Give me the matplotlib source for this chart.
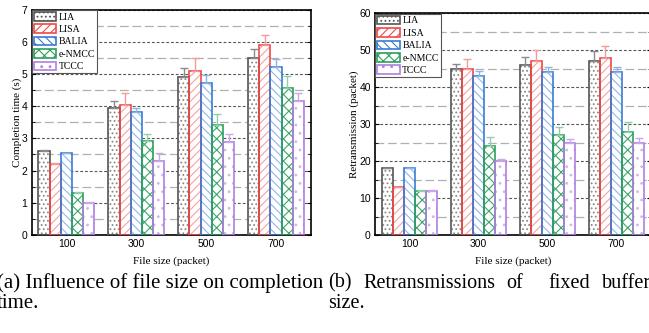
import matplotlib
matplotlib.use("Agg")
import matplotlib.pyplot as plt
import numpy as np
from matplotlib.ticker import MultipleLocator
from matplotlib.patches import Patch

file_sizes = [100, 300, 500, 700]
algorithms = ["LIA", "LISA", "BALIA", "e-NMCC", "TCCC"]

completion_LIA = [2.62, 3.93, 4.90, 5.50]
completion_LISA = [2.20, 4.02, 5.10, 5.90]
completion_BALIA = [2.53, 3.82, 4.72, 5.20]
completion_ENMCC = [1.30, 2.92, 3.40, 4.57]
completion_TCCC = [1.00, 2.31, 2.90, 4.17]

completion_err_LIA = [0.02, 0.22, 0.27, 0.28]
completion_err_LISA = [0.02, 0.40, 0.38, 0.32]
completion_err_BALIA = [0.02, 0.13, 0.25, 0.25]
completion_err_ENMCC = [0.02, 0.23, 0.35, 0.36]
completion_err_TCCC = [0.02, 0.22, 0.22, 0.23]

retrans_LIA = [18, 45, 46, 47]
retrans_LISA = [13, 45, 47, 48]
retrans_BALIA = [18, 43, 44, 44]
retrans_ENMCC = [12, 24, 27, 28]
retrans_TCCC = [12, 20, 25, 25]

retrans_err_LIA = [0.1, 1.2, 2.1, 2.8]
retrans_err_LISA = [0.1, 2.5, 3.1, 3.1]
retrans_err_BALIA = [0.1, 1.3, 1.4, 1.4]
retrans_err_ENMCC = [0.1, 2.5, 2.2, 2.6]
retrans_err_TCCC = [0.1, 0.6, 1.0, 1.2]

edge_colors = ["#555555", "#f04848", "#3a7bd5", "#2e9e5b", "#b07fe0"]
hatch_colors = ["#8a8a8a", "#f7a0a0", "#8fb6ec", "#3aa866", "#d2b5f0"]
err_colors = ["#8a8a8a", "#f59a9a", "#8ab4ea", "#8fd0a8", "#caa8ee"]
hatches = ["....", "////", "\\\\\\\\", "xxx", ".."]

plt.rcParams["hatch.linewidth"] = 0.8
serif = ["Liberation Serif", "DejaVu Serif"]
sans = ["Liberation Sans", "DejaVu Sans"]

fig = plt.figure(figsize=(6.49, 3.33), dpi=100)
W, H = 649, 333

def axes_px(x0, y0, x1, y1):
    return fig.add_axes([x0 / W, 1 - y1 / H, (x1 - x0) / W, (y1 - y0) / H])

axL = axes_px(31.5, 9.5, 311, 235)
axR = axes_px(375, 13.3, 651, 235)

def draw(ax, series, errs, ymax, major, minor, ylabel, ypad):
    x = np.array(file_sizes, dtype=float)
    width = 32
    ax.set_axisbelow(True)
    for i, (vals, err) in enumerate(zip(series, errs)):
        pos = x + (i - 2) * width
        ax.bar(pos, vals, width, color="white", edgecolor=hatch_colors[i],
               hatch=hatches[i], linewidth=0, zorder=2)
        ax.bar(pos, vals, width, color="none", edgecolor=edge_colors[i],
               linewidth=1.2, zorder=3)
        ax.errorbar(pos, vals, yerr=[np.zeros(len(err)), err], fmt="none",
                    ecolor=err_colors[i], elinewidth=1, capsize=3, capthick=1,
                    zorder=4)
    ax.set_xlim(0, 800)
    ax.set_ylim(0, ymax)
    ax.set_xticks(file_sizes)
    ax.set_xticklabels([str(v) for v in file_sizes], fontfamily=sans, fontsize=7.5)
    ax.yaxis.set_major_locator(MultipleLocator(major))
    ax.yaxis.set_minor_locator(MultipleLocator(minor))
    for lab in ax.get_yticklabels():
        lab.set_fontfamily(sans)
        lab.set_fontsize(7.5)
    ax.tick_params(axis="both", which="both", direction="in", right=True)
    ax.tick_params(axis="both", which="major", length=3, width=0.8, pad=3)
    ax.tick_params(axis="both", which="minor", length=2, width=0.6)
    ax.tick_params(axis="x", which="both", top=False)
    ax.grid(True, which="major", axis="y", color="#555555", linestyle=(0, (2.5, 1.8)), linewidth=0.8)
    ax.grid(True, which="minor", axis="y", color="#b0b0b0", linestyle=(0, (7, 3)), linewidth=0.9)
    for s in ax.spines.values():
        s.set_linewidth(1.2)
    ax.set_xlabel("File size (packet)", fontfamily=serif, fontsize=8, labelpad=5)
    ax.set_ylabel(ylabel, fontfamily=serif, fontsize=8, labelpad=ypad)
    handles = [Patch(facecolor="white", edgecolor=edge_colors[i], hatch=hatches[i],
                     linewidth=1.2) for i in range(5)]
    leg = ax.legend(handles, algorithms, loc="upper left", prop={"family": serif, "size": 7},
                    frameon=True, fancybox=False, framealpha=1, edgecolor="#555555",
                    borderpad=0.2, labelspacing=0.28, handlelength=2.3, handleheight=1.0,
                    handletextpad=0.25, borderaxespad=0.05)
    leg.get_frame().set_linewidth(0.8)
    leg.set_zorder(10)

draw(axL, [completion_LIA, completion_LISA, completion_BALIA, completion_ENMCC, completion_TCCC],
     [completion_err_LIA, completion_err_LISA, completion_err_BALIA, completion_err_ENMCC, completion_err_TCCC],
     7, 1, 0.5, "Completion time (s)", -0.5)
draw(axR, [retrans_LIA, retrans_LISA, retrans_BALIA, retrans_ENMCC, retrans_TCCC],
     [retrans_err_LIA, retrans_err_LISA, retrans_err_BALIA, retrans_err_ENMCC, retrans_err_TCCC],
     60, 10, 5, "Retransmission (packet)", 0)

cap = dict(fontfamily=serif, fontsize=15, va="center", ha="left")
fig.text(-3 / W, 1 - 283 / H, "(a) Influence of file size on completion", **cap)
fig.text(-3 / W, 1 - 304 / H, "time.", **cap)
capb = dict(cap, fontsize=14.5)
words = [("(b)", 328), ("Retransmissions", 363), ("of", 506), ("fixed", 548), ("buffer", 602)]
for w, xp in words:
    fig.text(xp / W, 1 - 283 / H, w, **capb)
fig.text(328 / W, 1 - 304 / H, "size.", **capb)

fig.savefig("out.png", dpi=100)
